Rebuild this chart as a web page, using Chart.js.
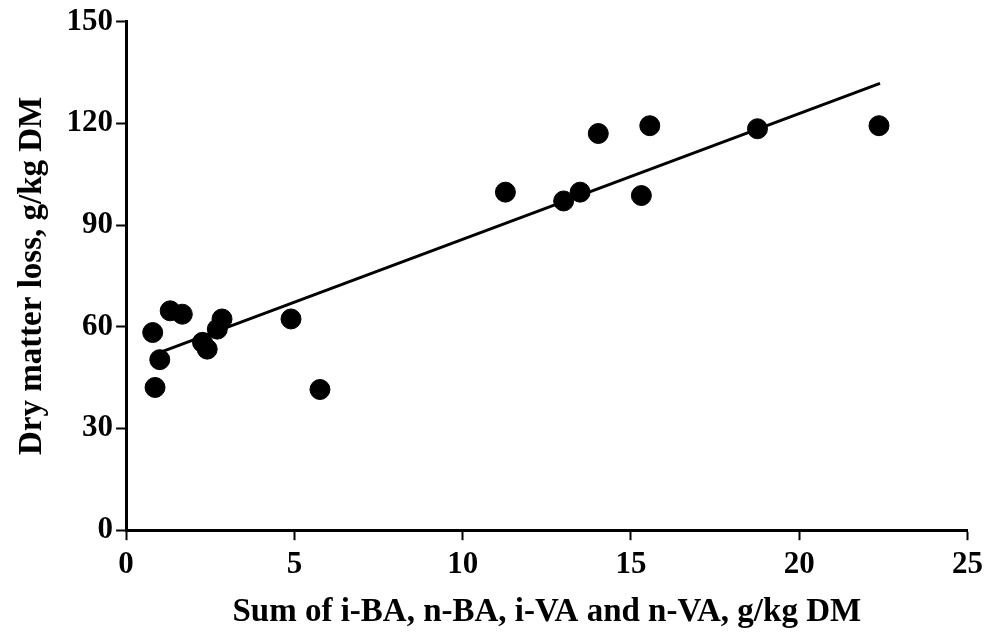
<!DOCTYPE html>
<html>
<head>
<meta charset="utf-8">
<script src="https://cdn.jsdelivr.net/npm/chart.js@4"></script>
<style>
  html, body { margin: 0; padding: 0; background: #fff; }
  #wrap { width: 989px; height: 632px; }
</style>
</head>
<body>
<div id="wrap"><canvas id="chart" width="989" height="632"></canvas></div>
<script>
// observed points: sum of i-BA, n-BA, i-VA, n-VA (g/kg DM) vs dry matter loss (g/kg DM)
const sumAcids = [0.79, 0.86, 1.0, 1.31, 1.67, 2.27, 2.41, 2.71, 2.85, 4.9, 5.76,
  11.27, 13.0, 13.49, 14.03, 15.56, 15.31, 18.76, 22.37];
const dmLoss = [58.3, 42.1, 50.3, 64.7, 63.7, 55.4, 53.4, 59.3, 62.3, 62.3, 41.5,
  99.7, 97.1, 99.7, 117, 119.3, 98.7, 118.4, 119.3];

// fitted line end points
const trendX = [0.95, 22.4];
const trendY = [52.2, 131.8];

const xTicks = [0, 5, 10, 15, 20, 25];
const yTicks = [0, 30, 60, 90, 120, 150];

const points = sumAcids.map((x, i) => ({ x: x, y: dmLoss[i] }));
const trend = trendX.map((x, i) => ({ x: x, y: trendY[i] }));

const family = "'Liberation Serif', 'Times New Roman', serif";
const tickFont = { family: family, weight: "bold", size: 31 };
const titleFont = { family: family, weight: "bold", size: 33 };

new Chart(document.getElementById("chart").getContext("2d"), {
  type: "scatter",
  data: {
    datasets: [
      {
        label: "Observed",
        data: points,
        backgroundColor: "#000",
        borderColor: "#000",
        pointRadius: 10,
        pointHoverRadius: 10,
      },
      {
        type: "line",
        label: "Trend",
        data: trend,
        borderColor: "#000",
        borderWidth: 3,
        pointRadius: 0,
        fill: false,
      },
    ],
  },
  options: {
    responsive: false,
    animation: false,
    layout: { padding: { top: 4, right: 0, left: 13, bottom: 0 } },
    plugins: { legend: { display: false }, tooltip: { enabled: false } },
    scales: {
      x: {
        type: "linear",
        min: 0,
        max: 25,
        afterBuildTicks: (axis) => { axis.ticks = xTicks.map((v) => ({ value: v })); },
        ticks: { color: "#000", font: tickFont, padding: 6, maxRotation: 0 },
        grid: { drawOnChartArea: false, drawTicks: true, tickLength: 10, tickColor: "#000", tickWidth: 2 },
        border: { display: true, color: "#000", width: 3 },
        title: {
          display: true,
          text: "Sum of i-BA, n-BA, i-VA and n-VA, g/kg DM",
          color: "#000",
          font: titleFont,
          padding: { top: 3, bottom: 0 },
        },
      },
      y: {
        type: "linear",
        min: 0,
        max: 150,
        afterBuildTicks: (axis) => { axis.ticks = yTicks.map((v) => ({ value: v })); },
        ticks: { color: "#000", font: tickFont, padding: 3 },
        grid: { drawOnChartArea: false, drawTicks: true, tickLength: 10, tickColor: "#000", tickWidth: 2 },
        border: { display: true, color: "#000", width: 3 },
        title: {
          display: true,
          text: "Dry matter loss, g/kg DM",
          color: "#000",
          font: titleFont,
          padding: { top: 0, bottom: 11 },
        },
      },
    },
  },
});
</script>
</body>
</html>
